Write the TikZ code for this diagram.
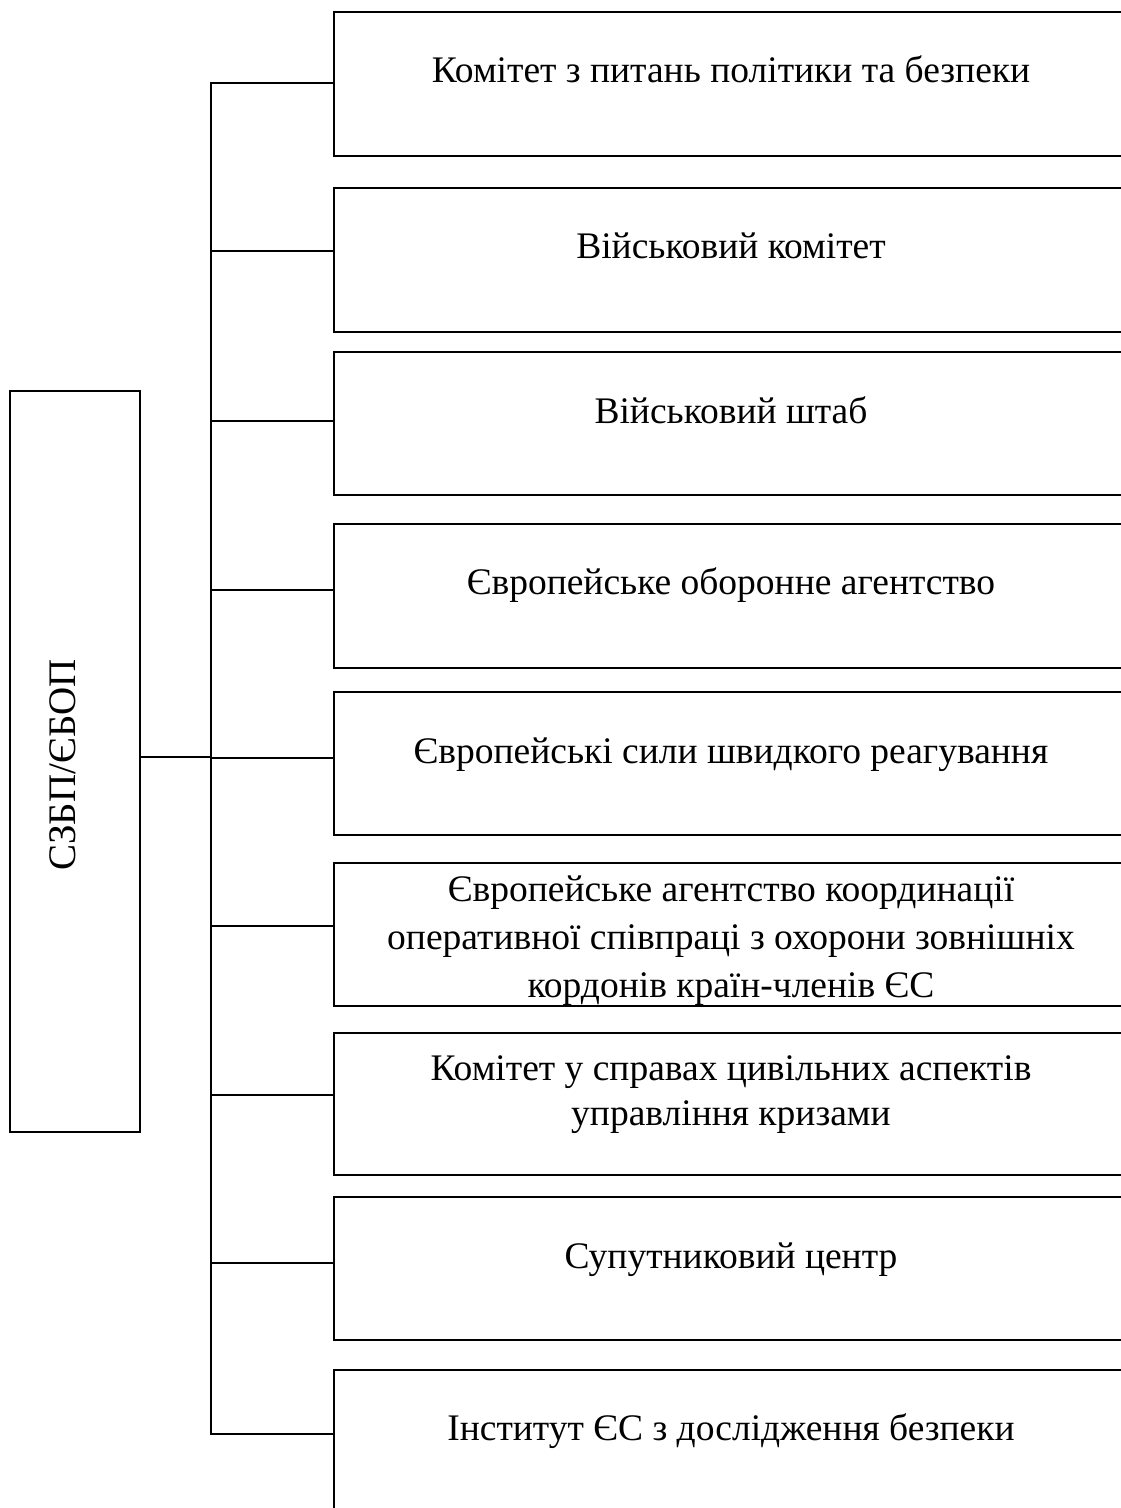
\documentclass[tikz,border=0pt]{standalone}
\usepackage{fontspec}
\setmainfont{Liberation Serif}
\newfontfamily\tnr{Liberation Serif}
\begin{document}
\begin{tikzpicture}[x=1pt,y=-1pt,
  line width=2pt,
  orgbox/.style={draw=black, line width=2pt, rectangle, inner sep=0pt, anchor=north west},
  lbl/.style={font=\tnr\fontsize{37.5}{48}\selectfont, align=center, inner sep=0pt, anchor=base},
  conn/.style={draw=black, line width=2pt}]
\useasboundingbox (0,0) rectangle (1120,1508);
\fill[white] (0,0) rectangle (1120,1508);

% left box
\node[orgbox, minimum width=130.3pt, minimum height=741.2pt] (L) at (9,389.5) {};
\node[lbl, rotate=90, font=\tnr\fontsize{39}{48}\selectfont] (Lt) at (75.5,765) {СЗБП/ЄБОП};

% right boxes
\node[orgbox, minimum width=797pt, minimum height=144pt] (b1) at (333,10.7) {};
\node[orgbox, minimum width=797pt, minimum height=143.4pt] (b2) at (333,187.3) {};
\node[orgbox, minimum width=797pt, minimum height=143.3pt] (b3) at (333,351) {};
\node[orgbox, minimum width=797pt, minimum height=143.4pt] (b4) at (333,523.3) {};
\node[orgbox, minimum width=797pt, minimum height=143.3pt] (b5) at (333,691) {};
\node[orgbox, minimum width=797pt, minimum height=142.7pt] (b6) at (333,862) {};
\node[orgbox, minimum width=797pt, minimum height=142.3pt] (b7) at (333,1031.7) {};
\node[orgbox, minimum width=797pt, minimum height=143.6pt] (b8) at (333,1195.7) {};
\node[orgbox, minimum width=797pt, minimum height=160pt] (b9) at (333,1369) {};

% texts
\node[lbl] (t1) at (731,82.5) {Комітет з питань політики та безпеки};
\node[lbl] (t2) at (731,258.5) {Військовий комітет};
\node[lbl] (t3) at (731,423.5) {Військовий штаб};
\node[lbl] (t4) at (731,594) {Європейське оборонне агентство};
\node[lbl] (t5) at (731,763) {Європейські сили швидкого реагування};
\begin{scope}
\clip (b6.north west) rectangle (b6.south east);
\node[lbl, font=\tnr\fontsize{37.5}{48}\selectfont] (t6) at (731,997) {Європейське агентство координації\\оперативної співпраці з охорони зовнішніх\\кордонів країн-членів ЄС};
\end{scope}
\node[lbl, font=\tnr\fontsize{37.5}{45}\selectfont] (t7) at (731,1125) {Комітет у справах цивільних аспектів\\управління кризами};
\node[lbl] (t8) at (731,1268) {Супутниковий центр};
\node[lbl] (t9) at (731,1440) {Інститут ЄС з дослідження безпеки};

% connectors
\coordinate (c1) at (211,83);
\coordinate (c2) at (211,250.7);
\coordinate (c3) at (211,420.7);
\coordinate (c4) at (211,590);
\coordinate (c5) at (211,758.3);
\coordinate (c6) at (211,926);
\coordinate (c7) at (211,1095);
\coordinate (c8) at (211,1263.3);
\coordinate (c9) at (211,1434);
\coordinate (j) at (211,757);

\draw[conn] (b1.west |- c1) -- (c1) -- (c9) -- (b9.west |- c9);
\foreach \i in {2,...,8} {\draw[conn] (c\i) -- (b\i.west |- c\i);}
\draw[conn] (L.east |- j) -- (j);
\end{tikzpicture}
\end{document}
